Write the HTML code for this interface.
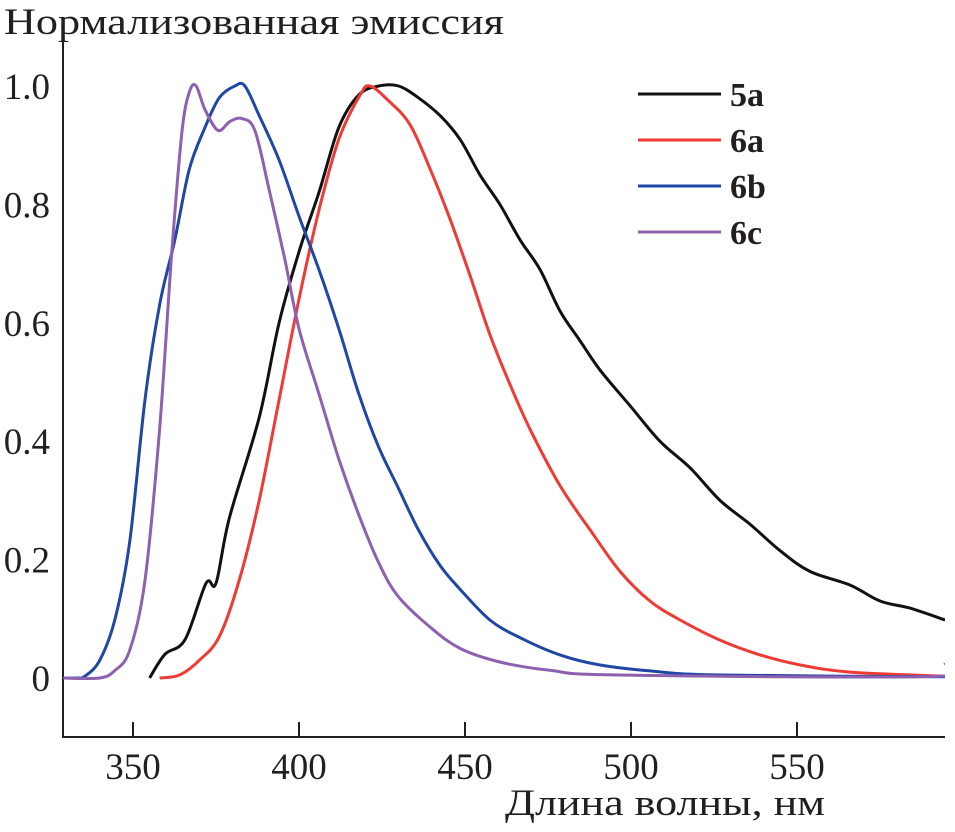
<!DOCTYPE html>
<html><head><meta charset="utf-8"><style>
body{margin:0;background:#fff}
svg text{font-family:"Liberation Serif",serif;fill:#231f20}
</style></head><body>
<svg width="955" height="827" viewBox="0 0 955 827">
<defs><clipPath id="plotclip"><rect x="63" y="40" width="882" height="697"/></clipPath></defs>
<text x="4" y="34" font-size="37" textLength="500" lengthAdjust="spacingAndGlyphs">Нормализованная эмиссия</text>
<text x="505" y="815" font-size="37" textLength="320" lengthAdjust="spacingAndGlyphs">Длина волны, нм</text>
<g id="axes"></g>
<g id="series" clip-path="url(#plotclip)"></g>
<g id="legend"></g>
</svg>
<script>
const xTicks=[350,400,450,500,550];
const yTicks=[0,0.2,0.4,0.6,0.8,1.0];
const yTickLabels=["0","0.2","0.4","0.6","0.8","1.0"];
const seriesNames=["5a","6a","6b","6c"];
const seriesColors=["#111","#ee3b33","#1f47a3","#8e60b0"];
const s5aX=[355,359.6,365.7,372,375,379,388,394,400,406,412,418,424,430,436,442.5,448.5,454.5,460.5,466.6,472.6,478.6,484.6,490.7,499.7,508.7,517.8,526.8,535.8,544.9,553.9,566,575,584,594.6];
const s5aY=[0,0.04,0.065,0.16,0.16,0.27,0.44,0.6,0.72,0.82,0.93,0.985,1.0,1.0,0.98,0.95,0.91,0.85,0.8,0.74,0.69,0.62,0.57,0.52,0.46,0.40,0.355,0.30,0.26,0.215,0.18,0.157,0.13,0.118,0.098];
const s6aX=[358,364,370,376,382,388,394,400,406,412,418.4,421.4,427,433.4,439.5,445.5,451.5,457.5,463.6,469.6,478.6,487.7,496.7,505.7,514.8,526.8,538.9,551,566,594.6];
const s6aY=[0,0.005,0.03,0.07,0.165,0.3,0.47,0.64,0.79,0.91,0.985,1.0,0.975,0.935,0.86,0.775,0.68,0.58,0.495,0.42,0.325,0.25,0.18,0.13,0.098,0.064,0.039,0.022,0.01,0.003];
const s6bX=[329,333,335.5,340,344.6,349,353.6,358,362.6,367,371.7,376,380.7,383.7,388,394,400,406,412,418,424,430,436,442.5,448.5,457.5,466.6,478.6,490.7,505.7,526.8,594.6];
const s6bY=[0,0,0.003,0.03,0.1,0.23,0.47,0.63,0.74,0.86,0.93,0.98,1.0,1.0,0.95,0.875,0.78,0.69,0.59,0.48,0.39,0.32,0.25,0.19,0.15,0.098,0.068,0.039,0.022,0.012,0.005,0.002];
const s6cX=[329,340,344.6,349,353.6,358,361.7,364.8,367,369,371.7,375.6,379.2,382.8,386.7,391,395.8,400,406,412,418.4,424.4,430,439.5,448.5,460.5,475.6,496.7,593,594.6];
const s6cY=[0,0,0.013,0.047,0.165,0.42,0.72,0.925,0.99,1.0,0.96,0.925,0.94,0.945,0.925,0.825,0.705,0.59,0.48,0.37,0.27,0.19,0.137,0.086,0.05,0.027,0.013,0.005,0.003,0.025];
const allX=[s5aX,s6aX,s6bX,s6cX], allY=[s5aY,s6aY,s6bY,s6cY];
const NS="http://www.w3.org/2000/svg";
const xs=v=>133+(v-350)*3.32;
const ys=v=>678-v*592;
function mk(t,a,p){const e=document.createElementNS(NS,t);for(const k in a)e.setAttribute(k,a[k]);p.appendChild(e);return e;}
function smooth(P){
 let d='M'+P[0][0].toFixed(1)+','+P[0][1].toFixed(1);
 for(let i=0;i<P.length-1;i++){
  const p0=P[Math.max(0,i-1)],p1=P[i],p2=P[i+1],p3=P[Math.min(P.length-1,i+2)];
  const c1=[p1[0]+(p2[0]-p0[0])/6,p1[1]+(p2[1]-p0[1])/6];
  const c2=[p2[0]-(p3[0]-p1[0])/6,p2[1]-(p3[1]-p1[1])/6];
  d+='C'+c1[0].toFixed(1)+','+c1[1].toFixed(1)+' '+c2[0].toFixed(1)+','+c2[1].toFixed(1)+' '+p2[0].toFixed(1)+','+p2[1].toFixed(1);
 }
 return d;
}
const axes=document.getElementById('axes');
const ax=mk('path',{d:'M63,40V737H945',fill:'none',stroke:'#231f20','stroke-width':2},axes);


xTicks.forEach(t=>{
 const l=mk('line',{x1:xs(t),x2:xs(t),y1:722,y2:737,stroke:'#231f20','stroke-width':2},axes);
 
 
 const tx=mk('text',{x:xs(t),y:779,'font-size':37,'text-anchor':'middle'},axes);tx.textContent=t;
 
 
});
yTicks.forEach((t,i)=>{
 const tx=mk('text',{x:50,y:ys(t)+13,'font-size':37,'text-anchor':'end'},axes);tx.textContent=yTickLabels[i];
 
 
});
const sg=document.getElementById('series');
allX.forEach((X,i)=>{
 const P=X.map((x,j)=>[xs(x),ys(allY[i][j])]);
 const p=mk('path',{d:smooth(P),fill:'none',stroke:seriesColors[i],'stroke-width':3,'stroke-linejoin':'round'},sg);
 
 
});
const lg=document.getElementById('legend');
seriesNames.forEach((n,i)=>{
 const y=94+i*46;
 const l=mk('line',{x1:638,x2:721,y1:y,y2:y,stroke:seriesColors[i],'stroke-width':3},lg);
 
 
 const t=mk('text',{x:730,y:y+12,'font-size':34,'font-weight':'bold'},lg);t.textContent=n;
 
 
});
</script>
</body></html>
